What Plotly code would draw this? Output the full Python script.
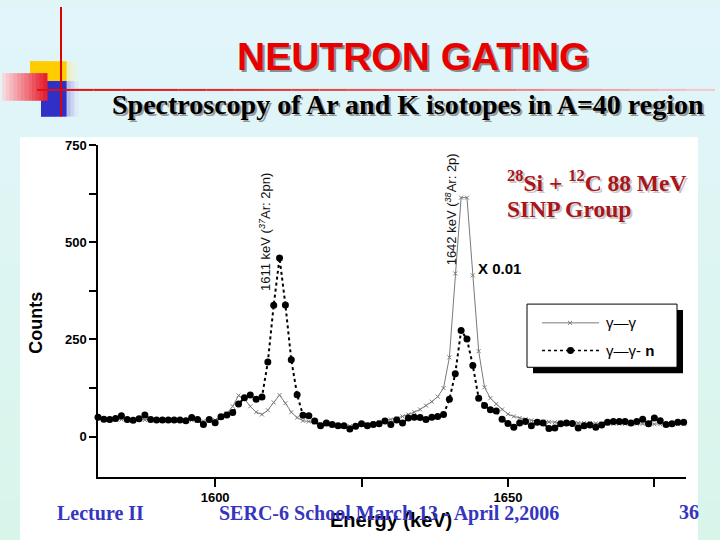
import plotly.graph_objects as go

# ---------------- data ----------------
energy = [1580, 1581, 1582, 1583, 1584, 1585, 1586, 1587, 1588, 1589,
          1590, 1591, 1592, 1593, 1594, 1595, 1596, 1597, 1598, 1599,
          1600, 1601, 1602, 1603, 1604, 1605, 1606, 1607, 1608, 1609,
          1610, 1611, 1612, 1613, 1614, 1615, 1616, 1617, 1618, 1619,
          1620, 1621, 1622, 1623, 1624, 1625, 1626, 1627, 1628, 1629,
          1630, 1631, 1632, 1633, 1634, 1635, 1636, 1637, 1638, 1639,
          1640, 1641, 1642, 1643, 1644, 1645, 1646, 1647, 1648, 1649,
          1650, 1651, 1652, 1653, 1654, 1655, 1656, 1657, 1658, 1659,
          1660, 1661, 1662, 1663, 1664, 1665, 1666, 1667, 1668, 1669,
          1670, 1671, 1672, 1673, 1674, 1675, 1676, 1677, 1678, 1679,
          1680]

# gamma-gamma (scaled x 0.01)
gg_scaled = [48, 46, 45, 44, 44, 43, 43, 43, 43, 43,
             43, 43, 43, 43, 43, 42, 42, 41, 40, 40,
             43, 50, 60, 78, 106, 97, 78, 63, 57, 68,
             88, 107, 86, 63, 49, 41, 39, 36, 33, 31,
             29, 28, 27, 27, 28, 30, 32, 35, 38, 41,
             44, 48, 52, 57, 63, 70, 80, 90, 103, 125,
             204, 420, 615, 615, 415, 220, 127, 99, 84, 70,
             58, 52, 48, 45, 42, 40, 39, 38, 37, 36,
             36, 35, 35, 35, 35, 34, 34, 34, 33, 33,
             33, 33, 33, 33, 32, 32, 32, 32, 32, 32,
             32]

# gamma-gamma-n
ggn = [50, 45, 44, 47, 54, 44, 42, 46, 56, 44,
       43, 43, 43, 43, 43, 41, 49, 44, 31, 44,
       36, 51, 56, 62, 84, 100, 107, 96, 102, 192,
       338, 460, 339, 198, 108, 55, 54, 40, 28, 35,
       31, 28, 28, 20, 27, 33, 28, 31, 33, 40,
       31, 43, 35, 48, 50, 49, 44, 50, 52, 57,
       96, 162, 273, 251, 183, 99, 80, 69, 66, 45,
       34, 24, 35, 39, 28, 37, 35, 21, 22, 33,
       35, 34, 22, 28, 30, 24, 30, 37, 39, 39,
       39, 35, 39, 45, 33, 48, 41, 31, 33, 37,
       37]

x_tickvals = [1600, 1625, 1650, 1675]
x_ticktext = ["1600", "", "1650", ""]
y_tickvals = [0, 125, 250, 375, 500, 625, 750]
y_ticktext = ["0", "", "250", "", "500", "", "750"]

series_names = ["γ—γ", "γ—γ- <b>n</b>"]

# ---------------- helpers ----------------
W, H = 720, 540


def X(px):
    return px / W


def Y(py):
    return 1 - py / H


def hexmix(c1, c2, t):
    a = [int(c1[i:i + 2], 16) for i in (1, 3, 5)]
    b = [int(c2[i:i + 2], 16) for i in (1, 3, 5)]
    return "rgb(%d,%d,%d)" % tuple(round(a[k] + (b[k] - a[k]) * t) for k in range(3))


shapes = []


def rect(x0, y0, x1, y1, color, layer="below", line=None):
    shapes.append(dict(type="rect", xref="paper", yref="paper",
                       x0=X(x0), x1=X(x1), y0=Y(y1), y1=Y(y0),
                       fillcolor=color, layer=layer,
                       line=line if line else dict(width=0)))


def hgrad(x0, y0, x1, y1, c1, c2, n=12, layer="below"):
    w = (x1 - x0) / n
    for i in range(n):
        rect(x0 + i * w, y0, x0 + (i + 1) * w + 0.5, y1, hexmix(c1, c2, i / (n - 1)), layer)


# slide background (vertical gradient)
nb = 27
for i in range(nb):
    rect(0, i * H / nb, W, (i + 1) * H / nb + 0.5, hexmix("#E1F5FB", "#D9F5EA", i / (nb - 1)))

# white picture area
rect(20, 132, 698, 540, "white")

# decorative squares
hgrad(30, 55, 76, 77, "#FFCC00", "#E9F3E0", n=10)
hgrad(30, 55, 66, 77, "#FFCC00", "#FFCC00", n=2)
hgrad(41, 75, 78, 111, "#3030C8", "#DDE8F8", n=10)
hgrad(41, 75, 66, 111, "#3030C8", "#3030C8", n=2)
hgrad(2, 67, 47, 95, "#F8D8DC", "#E82030", n=12)

# red lines
nseg = 24
for i in range(nseg):
    xa = 37 + (715 - 37) * i / nseg
    xb = 37 + (715 - 37) * (i + 1) / nseg
    shapes.append(dict(type="line", xref="paper", yref="paper",
                       x0=X(xa), x1=X(xb), y0=Y(84), y1=Y(84), layer="below",
                       line=dict(color=hexmix("#E01010", "#F2C8D0", (i / (nseg - 1)) ** 1.5), width=2)))
shapes.append(dict(type="line", xref="paper", yref="paper",
                   x0=X(61), x1=X(61), y0=Y(0), y1=Y(111), layer="below",
                   line=dict(color="#E00000", width=2)))

# legend box with shadow
rect(533, 307, 683, 371, "black", layer="above")
rect(527, 301, 677, 365, "white", layer="above", line=dict(color="black", width=1))
shapes.append(dict(type="line", xref="paper", yref="paper", x0=X(542), x1=X(599),
                   y0=Y(320), y1=Y(320), layer="above", line=dict(color="#7a7a7a", width=1)))
shapes.append(dict(type="line", xref="paper", yref="paper", x0=X(568), x1=X(572),
                   y0=Y(318), y1=Y(322), layer="above", line=dict(color="#7a7a7a", width=1)))
shapes.append(dict(type="line", xref="paper", yref="paper", x0=X(568), x1=X(572),
                   y0=Y(322), y1=Y(318), layer="above", line=dict(color="#7a7a7a", width=1)))
shapes.append(dict(type="line", xref="paper", yref="paper", x0=X(542), x1=X(599),
                   y0=Y(348), y1=Y(348), layer="above", line=dict(color="black", width=1.5, dash="dot")))
shapes.append(dict(type="circle", xref="paper", yref="paper", x0=X(567), x1=X(574),
                   y0=Y(351.5), y1=Y(344.5), layer="above", fillcolor="black", line=dict(width=0)))

# ---------------- figure ----------------
fig = go.Figure()
fig.add_trace(go.Scatter(
    x=energy, y=gg_scaled, mode="lines+markers", name=series_names[0],
    line=dict(color="#7a7a7a", width=1),
    marker=dict(symbol="x-thin-open", size=4, line=dict(color="#7a7a7a", width=1)),
    showlegend=False, cliponaxis=False))
fig.add_trace(go.Scatter(
    x=energy, y=ggn, mode="lines+markers", name=series_names[1],
    line=dict(color="black", width=2, dash="dot"),
    marker=dict(symbol="circle", size=7, color="black"),
    showlegend=False, cliponaxis=False))

SANS = "Liberation Sans"
SERIF = "Liberation Serif"

ann = []


def text(px, py, s, size, color="black", family=SANS, bold=False, xanchor="center",
         yanchor="middle", angle=0, shadow=None):
    if shadow:
        ann.append(dict(x=X(px + 2), y=Y(py + 2), xref="paper", yref="paper", text=s,
                        showarrow=False, xanchor=xanchor, yanchor=yanchor, textangle=angle,
                        font=dict(family=family, size=size, color=shadow,
                                  weight=700 if bold else 400)))
    ann.append(dict(x=X(px), y=Y(py), xref="paper", yref="paper", text=s,
                    showarrow=False, xanchor=xanchor, yanchor=yanchor, textangle=angle,
                    font=dict(family=family, size=size, color=color,
                              weight=700 if bold else 400)))


text(413, 50, "NEUTRON GATING", 39, color="#E80000", bold=True, shadow="#8c8c8c")
text(408, 99, "Spectroscopy of Ar and K isotopes in A=40 region", 28, family=SERIF,
     bold=True, shadow="#9a9a9a")

# axis titles
text(36, 320, "Counts", 18, bold=True, angle=-90)
text(391, 520, "Energy (keV)", 20, bold=True)

# peak labels
text(265, 228, "1611 keV (<i><sup>37</sup></i>Ar: 2pn)", 13, color="#111111", angle=-90)
text(451, 205, "1642 keV (<i><sup>38</sup></i>Ar: 2p)", 13, color="#111111", angle=-90)
text(476, 265, "X 0.01", 15, bold=True, xanchor="left")

# reaction label
text(505, 176, "<sup>28</sup>Si + <sup>12</sup>C 88 MeV", 23.5, color="#A8151B", family=SERIF,
     bold=True, xanchor="left", shadow="#c8c8c8")
text(505, 205, "SINP Group", 23.5, color="#A8151B", family=SERIF, bold=True, xanchor="left",
     shadow="#c8c8c8")

# legend texts
text(604, 320, series_names[0], 15, xanchor="left")
text(604, 348, series_names[1], 15, xanchor="left")

# footer
text(55, 513, "Lecture II", 20, color="#3535C0", family=SERIF, bold=True, xanchor="left")
text(217, 513, "SERC-6 School March 13 - April 2,2006", 20, color="#3535C0", family=SERIF,
     bold=True, xanchor="left")
text(677, 512, "36", 20, color="#3535C0", family=SERIF, bold=True, xanchor="left")

fig.update_layout(
    width=W, height=H, margin=dict(l=0, r=0, t=0, b=0),
    paper_bgcolor="#E0F5F6", plot_bgcolor="rgba(0,0,0,0)",
    shapes=shapes, annotations=ann, showlegend=False, hovermode=False,
    xaxis=dict(domain=[X(98), X(686)], range=[1580, 1680.4], showline=True,
               linecolor="black", linewidth=1.5, ticks="outside", ticklen=8, tickwidth=1.5,
               tickcolor="black", tickvals=x_tickvals, ticktext=x_ticktext,
               tickfont=dict(family=SANS, size=13, color="black", weight=700),
               showgrid=False, zeroline=False, anchor="y"),
    yaxis=dict(domain=[Y(476), Y(140)], range=[-103.4, 750], showline=True,
               linecolor="black", linewidth=1.5, ticks="outside", ticklen=7, tickwidth=1.5,
               tickcolor="black", tickvals=y_tickvals, ticktext=y_ticktext,
               tickfont=dict(family=SANS, size=13, color="black", weight=700),
               showgrid=False, zeroline=False, anchor="x"),
)

fig.write_html("out.html")
